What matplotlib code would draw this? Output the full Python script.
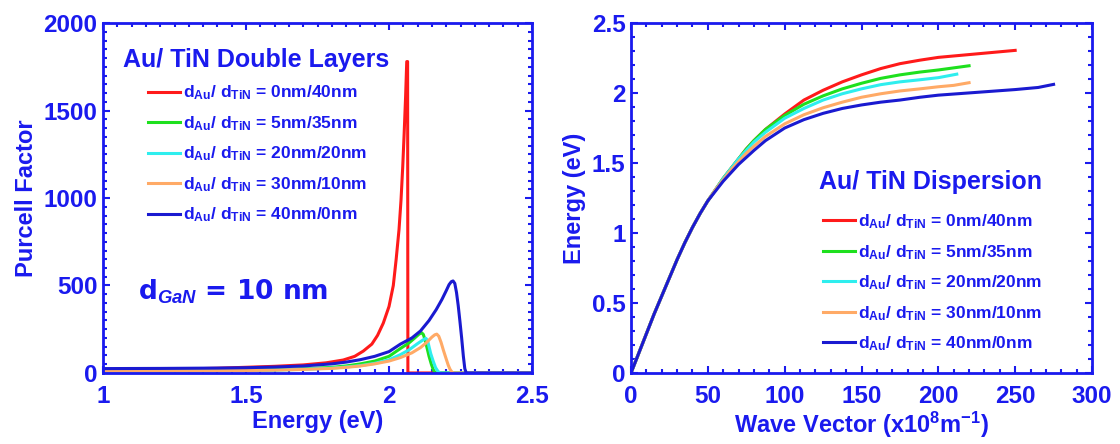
import matplotlib
matplotlib.use('Agg')
import matplotlib.pyplot as plt
from matplotlib.ticker import MultipleLocator

plt.rcParams['font.family'] = ['Liberation Sans', 'DejaVu Sans']
plt.rcParams['font.weight'] = 'bold'
plt.rcParams['axes.labelweight'] = 'bold'
plt.rcParams['mathtext.fontset'] = 'custom'
plt.rcParams['mathtext.rm'] = 'Liberation Sans:bold'
plt.rcParams['mathtext.bf'] = 'Liberation Sans:bold'
plt.rcParams['mathtext.it'] = 'Liberation Sans:italic:bold'

BLUE_TXT = '#1a1aee'

labels = ['0nm/40nm', '5nm/35nm', '20nm/20nm', '30nm/10nm', '40nm/0nm']
colors = ['#ff1a1a', '#1ee01e', '#2eeeee', '#ffaa66', '#1a1ad0']

# Purcell factor vs energy (eV)
e_red = [1.0, 1.2, 1.4, 1.6, 1.7, 1.78, 1.84, 1.88, 1.91, 1.94, 1.96, 1.98, 2.0, 2.015,
         2.025, 2.035, 2.042, 2.048, 2.053, 2.058, 2.062, 2.065, 2.066, 2.5]
p_red = [15, 20, 27, 38, 46, 58, 74, 95, 125, 165, 215, 285, 380, 500,
         650, 820, 989, 1180, 1371, 1580, 1780, 1780, 0, 0]
e_green = [1.0, 1.3, 1.5, 1.6, 1.7, 1.8, 1.85, 1.9, 1.95, 2.0, 2.04, 2.07, 2.09, 2.105,
           2.114, 2.12, 2.126, 2.132, 2.14, 2.148, 2.155, 2.162, 2.5]
p_green = [10, 13, 16, 19, 24, 32, 40, 52, 68, 95, 140, 172, 200, 222,
           230, 220, 190, 150, 95, 50, 18, 0, 0]
e_cyan = [1.0, 1.3, 1.5, 1.6, 1.7, 1.8, 1.85, 1.9, 1.95, 2.0, 2.04, 2.07, 2.1, 2.12,
          2.129, 2.135, 2.14, 2.146, 2.155, 2.163, 2.171, 2.178, 2.5]
p_cyan = [8, 11, 14, 16, 21, 28, 34, 42, 55, 75, 105, 132, 168, 190,
          198, 185, 150, 110, 65, 30, 10, 0, 0]
e_orange = [1.0, 1.3, 1.5, 1.6, 1.7, 1.8, 1.85, 1.9, 1.95, 2.0, 2.04, 2.08, 2.11, 2.13,
            2.15, 2.16, 2.167, 2.174, 2.182, 2.19, 2.2, 2.207, 2.213, 2.22, 2.226, 2.5]
p_orange = [10, 12, 14, 16, 20, 26, 32, 40, 52, 68, 88, 115, 145, 172,
            205, 218, 222, 210, 175, 131, 80, 45, 22, 5, 0, 0]
e_blue = [1.0, 1.2, 1.4, 1.5, 1.6, 1.7, 1.8, 1.85, 1.9, 1.95, 2.0, 2.04, 2.08, 2.11,
          2.14, 2.165, 2.185, 2.2, 2.21, 2.218, 2.224, 2.23, 2.236, 2.242, 2.248,
          2.254, 2.26, 2.265, 2.27, 2.5]
p_blue = [25, 26, 28, 30, 34, 40, 52, 62, 76, 95, 122, 165, 200, 240,
          300, 362, 420, 470, 505, 522, 526, 512, 460, 385, 295,
          200, 95, 25, 0, 0]

# Dispersion: energy (eV) vs wave vector (x1e8 m^-1)
k_low = [0, 5, 10, 15, 20, 25, 30, 35, 40, 45, 50, 55]
w_low = [0, 0.14, 0.28, 0.42, 0.55, 0.68, 0.81, 0.93, 1.04, 1.14, 1.23, 1.31]

k_red = k_low + [60, 65, 70, 75, 80, 87.5, 100, 112.5, 125, 137.5, 150, 162.5, 175, 188, 200, 225, 250]
w_red = w_low + [1.39, 1.46, 1.53, 1.60, 1.66, 1.74, 1.85, 1.95, 2.02, 2.08, 2.13, 2.175, 2.21, 2.235, 2.255, 2.28, 2.305]
k_green = k_low + [60, 65, 70, 75, 80, 87.5, 100, 112.5, 125, 137.5, 150, 162.5, 175, 188, 200, 210, 220]
w_green = w_low + [1.39, 1.46, 1.53, 1.60, 1.66, 1.74, 1.84, 1.92, 1.98, 2.03, 2.07, 2.105, 2.13, 2.15, 2.165, 2.18, 2.195]
k_cyan = k_low + [60, 65, 70, 75, 80, 87.5, 100, 112.5, 125, 137.5, 150, 162.5, 175, 188, 200, 212]
w_cyan = w_low + [1.39, 1.46, 1.53, 1.59, 1.65, 1.72, 1.82, 1.89, 1.95, 1.995, 2.03, 2.06, 2.08, 2.095, 2.11, 2.135]
k_orange = k_low + [60, 65, 70, 75, 80, 87.5, 100, 112.5, 125, 137.5, 150, 162.5, 175, 188, 200, 210, 220]
w_orange = w_low + [1.38, 1.45, 1.51, 1.57, 1.62, 1.69, 1.78, 1.845, 1.895, 1.935, 1.97, 1.995, 2.015, 2.03, 2.045, 2.055, 2.074]
k_blue = k_low[:-1] + [55, 60, 65, 70, 75, 80, 87.5, 100, 112.5, 125, 137.5, 150, 162.5, 175, 188, 200, 225, 250, 265, 275]
w_blue = w_low[:-1] + [1.30, 1.37, 1.43, 1.49, 1.54, 1.59, 1.66, 1.75, 1.81, 1.855, 1.89, 1.915, 1.935, 1.95, 1.97, 1.985, 2.005, 2.025, 2.04, 2.062]

purcell = [(e_red, p_red), (e_green, p_green), (e_cyan, p_cyan), (e_orange, p_orange), (e_blue, p_blue)]
disp = [(k_red, w_red), (k_green, w_green), (k_cyan, w_cyan), (k_orange, w_orange), (k_blue, w_blue)]


def entry(lab):
    return r'd$_{\mathrm{Au}}$/ d$_{\mathrm{TiN}}$ = ' + lab


def style_axes(ax):
    for sp in ax.spines.values():
        sp.set_color(BLUE_TXT)
        sp.set_linewidth(2)
    ax.tick_params(which='both', direction='in', top=True, right=True,
                   color=BLUE_TXT, labelcolor=BLUE_TXT, labelsize=17.5, pad=4)
    ax.tick_params(axis='x', which='both', pad=9)
    ax.tick_params(which='major', length=5, width=1.5)
    ax.tick_params(which='minor', length=3, width=1.5)


fig = plt.figure(figsize=(11.2, 4.44), dpi=100)
ax1 = fig.add_axes([0.092, 0.16, 0.383, 0.788])
ax2 = fig.add_axes([0.5634, 0.16, 0.4116, 0.788])

leg_kw = dict(loc='upper left', frameon=False, fontsize=12.5, labelcolor=BLUE_TXT,
              handlelength=1.85, handletextpad=0.15, labelspacing=0.68,
              borderpad=0, borderaxespad=0)

# left: Purcell factor
for (x, y), c, lab in zip(purcell, colors, labels):
    ax1.plot(x, y, color=c, lw=2.2, label=entry(lab))
ax1.set_xlim(1, 2.5)
ax1.set_ylim(0, 2000)
ax1.xaxis.set_major_locator(MultipleLocator(0.5))
ax1.xaxis.set_minor_locator(MultipleLocator(0.05))
ax1.yaxis.set_major_locator(MultipleLocator(500))
ax1.yaxis.set_minor_locator(MultipleLocator(50))
ax1.set_xticks([1, 1.5, 2, 2.5], ['1', '1.5', '2', '2.5'])
style_axes(ax1)
ax1.set_xlabel('Energy (eV)', fontsize=17, color=BLUE_TXT, labelpad=1)
ax1.set_ylabel('Purcell Factor', fontsize=17, color=BLUE_TXT, labelpad=4)
ax1.text(0.047, 0.894, 'Au/ TiN Double Layers', transform=ax1.transAxes,
         fontsize=18, color=BLUE_TXT, va='center', ha='left')
ax1.text(0.082, 0.231, r'd$_{GaN}$ = 10 nm', transform=ax1.transAxes,
         fontsize=19, color=BLUE_TXT, va='center', ha='left',
         family=['DejaVu Sans'])
ax1.legend(bbox_to_anchor=(0.105, 0.827), **leg_kw)

# right: dispersion
for (x, y), c, lab in zip(disp, colors, labels):
    ax2.plot(x, y, color=c, lw=2.2, label=entry(lab))
ax2.set_xlim(0, 300)
ax2.set_ylim(0, 2.5)
ax2.xaxis.set_major_locator(MultipleLocator(50))
ax2.xaxis.set_minor_locator(MultipleLocator(10))
ax2.yaxis.set_major_locator(MultipleLocator(0.5))
ax2.yaxis.set_minor_locator(MultipleLocator(0.1))
ax2.set_yticks([0, 0.5, 1, 1.5, 2, 2.5], ['0', '0.5', '1', '1.5', '2', '2.5'])
style_axes(ax2)
ax2.set_xlabel(r'Wave Vector (x10$^{8}$m$^{-1}$)', fontsize=17, color=BLUE_TXT, labelpad=1)
ax2.set_ylabel('Energy (eV)', fontsize=17, color=BLUE_TXT, labelpad=4)
ax2.text(0.408, 0.546, 'Au/ TiN Dispersion', transform=ax2.transAxes,
         fontsize=18, color=BLUE_TXT, va='center', ha='left')
ax2.legend(bbox_to_anchor=(0.4165, 0.459), **leg_kw)

fig.savefig('out.png', dpi=100)
